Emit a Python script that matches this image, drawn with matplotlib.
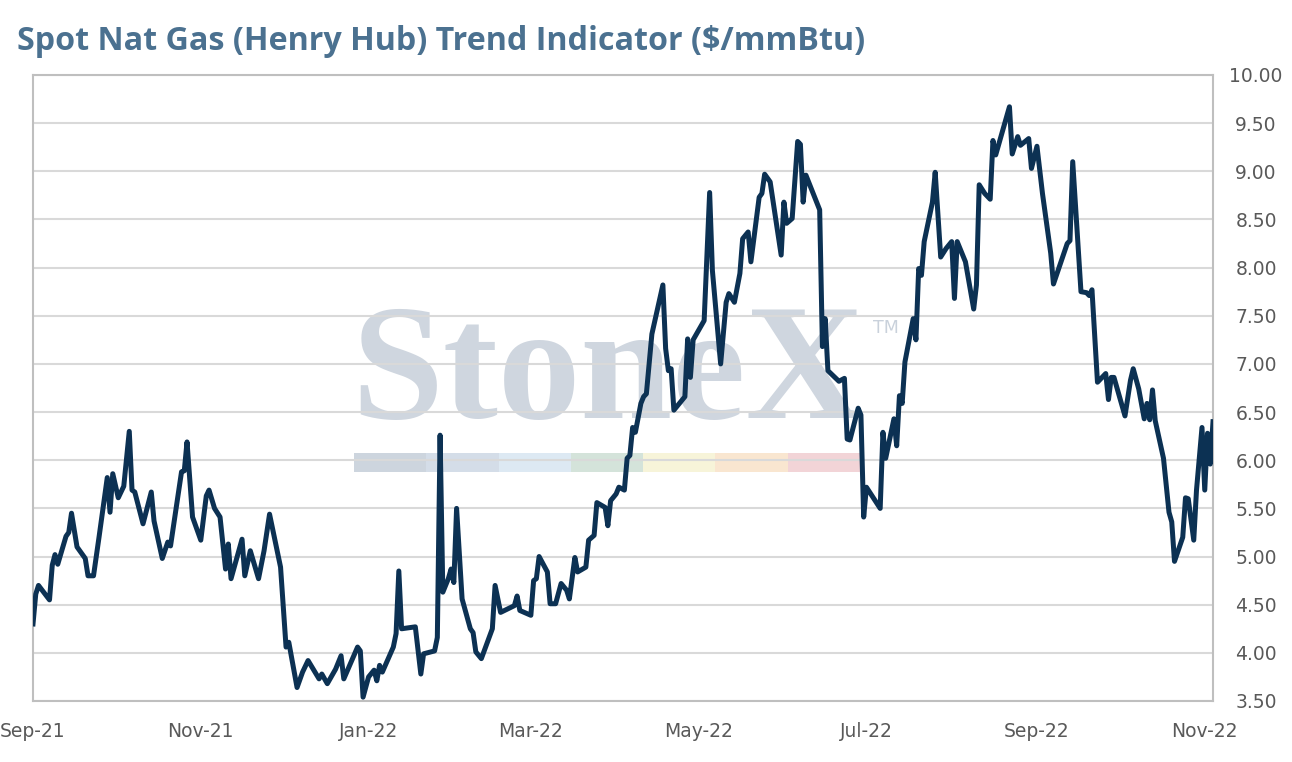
import pandas as pd
import matplotlib
matplotlib.use("Agg")
import matplotlib.pyplot as plt
import matplotlib.dates as mdates
from matplotlib.patches import Rectangle

# Henry Hub spot price ($/mmBtu)
dates = [
    "2021-09-01", "2021-09-02", "2021-09-03", "2021-09-07", "2021-09-08", "2021-09-09", "2021-09-10",
    "2021-09-13", "2021-09-14", "2021-09-15", "2021-09-17", "2021-09-20", "2021-09-21", "2021-09-23",
    "2021-09-25", "2021-09-28", "2021-09-29", "2021-09-30", "2021-10-02", "2021-10-04", "2021-10-06",
    "2021-10-07", "2021-10-08", "2021-10-11", "2021-10-14", "2021-10-15", "2021-10-18", "2021-10-20",
    "2021-10-21", "2021-10-25", "2021-10-26", "2021-10-27", "2021-10-29", "2021-11-01", "2021-11-03",
    "2021-11-04", "2021-11-06", "2021-11-08", "2021-11-10", "2021-11-11", "2021-11-12", "2021-11-16",
    "2021-11-17", "2021-11-19", "2021-11-22", "2021-11-24", "2021-11-26", "2021-11-30", "2021-12-02",
    "2021-12-03", "2021-12-06", "2021-12-08", "2021-12-10", "2021-12-14", "2021-12-15", "2021-12-17",
    "2021-12-20", "2021-12-22", "2021-12-23", "2021-12-28", "2021-12-29", "2021-12-30", "2022-01-01",
    "2022-01-03", "2022-01-04", "2022-01-05", "2022-01-06", "2022-01-10", "2022-01-11", "2022-01-12",
    "2022-01-13", "2022-01-18", "2022-01-20", "2022-01-21", "2022-01-25", "2022-01-26", "2022-01-27",
    "2022-01-28", "2022-01-30", "2022-01-31", "2022-02-01", "2022-02-02", "2022-02-04", "2022-02-07",
    "2022-02-08", "2022-02-09", "2022-02-11", "2022-02-15", "2022-02-16", "2022-02-18", "2022-02-23",
    "2022-02-24", "2022-02-25", "2022-03-01", "2022-03-02", "2022-03-03", "2022-03-04", "2022-03-07",
    "2022-03-08", "2022-03-10", "2022-03-12", "2022-03-14", "2022-03-15", "2022-03-17", "2022-03-18",
    "2022-03-21", "2022-03-22", "2022-03-24", "2022-03-25", "2022-03-28", "2022-03-29", "2022-03-30",
    "2022-04-01", "2022-04-02", "2022-04-04", "2022-04-05", "2022-04-06", "2022-04-07", "2022-04-08",
    "2022-04-10", "2022-04-11", "2022-04-12", "2022-04-14", "2022-04-18", "2022-04-19", "2022-04-20",
    "2022-04-21", "2022-04-22", "2022-04-26", "2022-04-27", "2022-04-28", "2022-04-29", "2022-05-03",
    "2022-05-05", "2022-05-06", "2022-05-09", "2022-05-11", "2022-05-12", "2022-05-14", "2022-05-16",
    "2022-05-17", "2022-05-19", "2022-05-20", "2022-05-23", "2022-05-24", "2022-05-25", "2022-05-27",
    "2022-05-31", "2022-06-01", "2022-06-02", "2022-06-04", "2022-06-06", "2022-06-07", "2022-06-08",
    "2022-06-09", "2022-06-14", "2022-06-15", "2022-06-16", "2022-06-17", "2022-06-21", "2022-06-23",
    "2022-06-24", "2022-06-25", "2022-06-28", "2022-06-29", "2022-06-30", "2022-07-01", "2022-07-06",
    "2022-07-07", "2022-07-08", "2022-07-11", "2022-07-12", "2022-07-13", "2022-07-14", "2022-07-15",
    "2022-07-18", "2022-07-19", "2022-07-20", "2022-07-21", "2022-07-22", "2022-07-25", "2022-07-26",
    "2022-07-28", "2022-07-30", "2022-08-01", "2022-08-02", "2022-08-03", "2022-08-06", "2022-08-09",
    "2022-08-10", "2022-08-11", "2022-08-13", "2022-08-15", "2022-08-16", "2022-08-17", "2022-08-22",
    "2022-08-23", "2022-08-25", "2022-08-26", "2022-08-29", "2022-08-30", "2022-09-01", "2022-09-03",
    "2022-09-06", "2022-09-07", "2022-09-12", "2022-09-13", "2022-09-14", "2022-09-17", "2022-09-19",
    "2022-09-20", "2022-09-21", "2022-09-23", "2022-09-26", "2022-09-27", "2022-09-28", "2022-09-29",
    "2022-10-03", "2022-10-05", "2022-10-06", "2022-10-08", "2022-10-10", "2022-10-11", "2022-10-12",
    "2022-10-13", "2022-10-14", "2022-10-17", "2022-10-19", "2022-10-20", "2022-10-21", "2022-10-24",
    "2022-10-25", "2022-10-26", "2022-10-28", "2022-10-29", "2022-10-31", "2022-11-01", "2022-11-02",
    "2022-11-03", "2022-11-04",
]
prices = [
    4.30, 4.61, 4.70, 4.55, 4.91, 5.02, 4.92,
    5.21, 5.25, 5.45, 5.10, 4.98, 4.80, 4.80,
    5.20, 5.82, 5.46, 5.86, 5.61, 5.73, 6.30,
    5.69, 5.67, 5.34, 5.67, 5.37, 4.98, 5.15,
    5.11, 5.88, 5.89, 6.19, 5.41, 5.17, 5.63,
    5.69, 5.50, 5.41, 4.87, 5.13, 4.77, 5.18,
    4.80, 5.06, 4.77, 5.06, 5.44, 4.89, 4.06,
    4.11, 3.64, 3.80, 3.92, 3.73, 3.78, 3.68,
    3.83, 3.97, 3.73, 4.06, 4.02, 3.54, 3.75,
    3.82, 3.71, 3.87, 3.80, 4.06, 4.20, 4.85,
    4.25, 4.27, 3.78, 3.99, 4.02, 4.16, 6.26,
    4.63, 4.77, 4.87, 4.73, 5.50, 4.56, 4.25,
    4.21, 4.01, 3.94, 4.25, 4.70, 4.42, 4.49,
    4.59, 4.44, 4.39, 4.75, 4.77, 5.00, 4.84,
    4.51, 4.51, 4.72, 4.65, 4.56, 4.99, 4.84,
    4.89, 5.17, 5.22, 5.56, 5.51, 5.32, 5.58,
    5.65, 5.72, 5.69, 6.02, 6.05, 6.34, 6.29,
    6.59, 6.66, 6.69, 7.31, 7.82, 7.16, 6.93,
    6.95, 6.52, 6.66, 7.26, 6.86, 7.25, 7.45,
    8.78, 7.97, 7.00, 7.64, 7.73, 7.64, 7.94,
    8.30, 8.37, 8.06, 8.73, 8.77, 8.97, 8.89,
    8.13, 8.68, 8.46, 8.51, 9.31, 9.28, 8.68,
    8.96, 8.60, 7.18, 7.47, 6.93, 6.82, 6.85,
    6.22, 6.21, 6.54, 6.47, 5.41, 5.72, 5.50,
    6.29, 6.02, 6.43, 6.15, 6.67, 6.59, 7.02,
    7.47, 7.25, 7.99, 7.92, 8.27, 8.68, 8.99,
    8.11, 8.20, 8.27, 7.68, 8.27, 8.06, 7.57,
    7.82, 8.86, 8.77, 8.71, 9.32, 9.17, 9.67,
    9.18, 9.36, 9.27, 9.34, 9.03, 9.26, 8.77,
    8.15, 7.83, 8.25, 8.28, 9.10, 7.75, 7.74,
    7.71, 7.77, 6.81, 6.90, 6.63, 6.86, 6.86,
    6.46, 6.83, 6.95, 6.74, 6.43, 6.59, 6.42,
    6.73, 6.41, 6.02, 5.46, 5.36, 4.95, 5.20,
    5.61, 5.60, 5.17, 5.69, 6.34, 5.69, 6.28,
    5.96, 6.40,
]
y_ticks = [3.5, 4.0, 4.5, 5.0, 5.5, 6.0, 6.5, 7.0, 7.5, 8.0, 8.5, 9.0, 9.5, 10.0]
x_ticks = ["2021-09-01", "2021-11-01", "2022-01-01", "2022-03-01", "2022-05-01",
           "2022-07-01", "2022-09-01", "2022-11-01"]
title = "Spot Nat Gas (Henry Hub) Trend Indicator ($/mmBtu)"

df = pd.DataFrame({"date": pd.to_datetime(dates), "price": prices})

fig = plt.figure(figsize=(12.92, 7.62), dpi=100)
ax = fig.add_axes([33 / 1292, 1 - 701 / 762, (1213 - 33) / 1292, (701 - 75) / 762])

# faint StoneX watermark behind the grid
wm = "#cfd6df"
ax.text(351 / 1292, 1 - 418 / 762, "StoneX", transform=fig.transFigure, fontsize=119,
        family="Liberation Serif", weight="bold", color=wm, ha="left", va="baseline", zorder=0.2)
ax.text(873 / 1292, 1 - 328 / 762, "TM", transform=fig.transFigure, fontsize=12.5,
        family="DejaVu Sans", color="#c9d1db", ha="left", va="center", zorder=0.2)
bar_colors = ["#cdd5de", "#d4dde8", "#dde9f3", "#d4e3da", "#f7f4d9", "#f9e6d0", "#f2d4d7"]
seg_w = (860 - 354) / len(bar_colors)
for i, c in enumerate(bar_colors):
    ax.add_patch(Rectangle(((354 + i * seg_w) / 1292, 1 - 472 / 762), seg_w / 1292, 19 / 762,
                           transform=fig.transFigure, facecolor=c, edgecolor="none", zorder=0.2))

ax.plot(df["date"], df["price"], color="#0c3153", lw=3.6, solid_joinstyle="round", zorder=3)

ax.set_xlim(pd.Timestamp("2021-09-01"), pd.Timestamp("2022-11-04"))
ax.set_ylim(3.5, 10.0)
ax.set_xticks(pd.to_datetime(x_ticks))
ax.xaxis.set_major_formatter(mdates.DateFormatter("%b-%y"))
ax.set_yticks(y_ticks)
ax.set_yticklabels([f"{v:.2f}" for v in y_ticks])

ax.yaxis.tick_right()
ax.set_axisbelow(True)
ax.grid(axis="y", color="#d9d9d9", lw=1.5)
ax.grid(axis="x", visible=False)
for s in ax.spines.values():
    s.set_color("#bfbfbf")
    s.set_linewidth(1.5)
ax.tick_params(axis="y", length=0, pad=31, labelsize=13.5, labelcolor="#595959")
ax.tick_params(axis="x", length=0, pad=15, labelsize=13.5, labelcolor="#595959")
for lab in ax.get_yticklabels():
    lab.set_horizontalalignment("center")

fig.text(17 / 1292, 1 - 41 / 762, title, fontsize=23.2, family="Open Sans", weight="bold",
         color="#4b7190", ha="left", va="center")

fig.savefig("out.png", dpi=100)
